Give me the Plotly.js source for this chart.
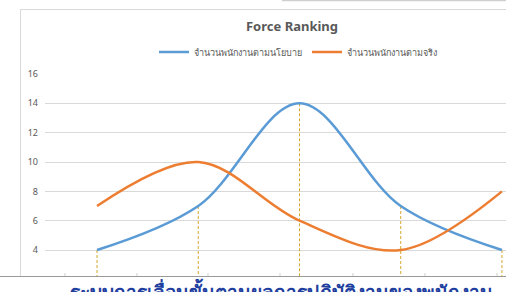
<!DOCTYPE html>
<html>
<head>
<meta charset="utf-8">
<script src="https://cdn.plot.ly/plotly-3.0.1.min.js"></script>
<style>html,body{margin:0;padding:0;background:#fff;}#chart{width:506px;height:292px;}</style>
</head>
<body>
<div id="chart"></div>
<script>
// Data
const categories = [1, 2, 3, 4, 5];
const policySeriesName = "จำนวนพนักงานตามนโยบาย";
const actualSeriesName = "จำนวนพนักงานตามจริง";
const policyValues = [4, 7, 14, 7, 4];
const actualValues = [7, 10, 6, 4, 8];
const yTickValues = [2, 4, 6, 8, 10, 12, 14, 16];
const chartTitle = "Force Ranking";
const footerText = "ระบบการเลื่อนขั้นตามผลการปฏิบัติงานของพนักงาน";

const W = 506, H = 292;
const M = {l: 45, r: 0, t: 74, b: 1};
const PW = W - M.l - M.r, PH = H - M.t - M.b;
const px = x => (x - M.l) / PW;
const py = y => (H - M.b - y) / PH;

const xs = categories.map((c, i) => i);
const font = "Noto Sans, Liberation Sans, DejaVu Sans, sans-serif";

const traces = [];
// drop lines from first series down
xs.forEach((x, i) => {
  traces.push({
    x: [x, x], y: [policyValues[i], 0],
    mode: 'lines', showlegend: false, hoverinfo: 'skip',
    line: {color: '#d4a72c', width: 1, dash: '3px,2px'}
  });
});
traces.push({
  x: xs, y: policyValues, name: policySeriesName, mode: 'lines',
  line: {color: '#5b9bd5', width: 2.5, shape: 'spline', smoothing: 1}
});
traces.push({
  x: xs, y: actualValues, name: actualSeriesName, mode: 'lines',
  line: {color: '#ed7d31', width: 2.5, shape: 'spline', smoothing: 1}
});

const shapes = [
  // chart border top and left
  {type: 'line', xref: 'paper', yref: 'paper', x0: px(20), x1: px(506), y0: py(9.5), y1: py(9.5), line: {color: '#d9d9d9', width: 1}, layer: 'above'},
  {type: 'line', xref: 'paper', yref: 'paper', x0: px(20.5), x1: px(20.5), y0: py(9), y1: py(276), line: {color: '#d9d9d9', width: 1}, layer: 'above'},
  // top-right strip
  {type: 'line', xref: 'paper', yref: 'paper', x0: px(282), x1: px(506), y0: py(0.5), y1: py(0.5), line: {color: '#cfcfcf', width: 1.5}, layer: 'above'},
  // white cover at bottom
  {type: 'rect', xref: 'paper', yref: 'paper', x0: px(0), x1: px(506), y0: py(292), y1: py(276), fillcolor: '#ffffff', line: {width: 0}, layer: 'above'},
  // horizontal document line
  {type: 'line', xref: 'paper', yref: 'paper', x0: px(0), x1: px(506), y0: py(276.5), y1: py(276.5), line: {color: '#9a9a9a', width: 1}, layer: 'above'}
];
[65, 137, 208, 280, 353, 425, 497].forEach(t => {
  shapes.push({type: 'line', xref: 'paper', yref: 'paper', x0: px(t), x1: px(t), y0: py(276), y1: py(273), line: {color: '#cfcfcf', width: 1}, layer: 'above'});
});

const layout = {
  width: W, height: H,
  margin: M,
  paper_bgcolor: '#ffffff', plot_bgcolor: '#ffffff',
  showlegend: true,
  title: {text: '<b>' + chartTitle + '</b>', font: {family: font, size: 13, color: '#595959'},
          x: 292 / W, xref: 'container', xanchor: 'center', y: 1 - 26 / H, yref: 'container', yanchor: 'middle'},
  legend: {orientation: 'h', x: px(298), xanchor: 'center', y: py(52), yanchor: 'middle',
           font: {family: font, size: 9, color: '#595959'}, bgcolor: 'rgba(0,0,0,0)', itemwidth: 30, tracegroupgap: 0},
  xaxis: {range: [-0.514, 4.04], showgrid: false, zeroline: false, showline: false, showticklabels: false, ticks: '', fixedrange: true},
  yaxis: {range: [16 - PH / 14.67, 16], tickvals: yTickValues, ticktext: yTickValues.map(String),
          showgrid: true, gridcolor: '#d9d9d9', gridwidth: 1, zeroline: false, showline: false, ticks: '',
          ticklabelstandoff: 6, tickfont: {family: font, size: 9, color: '#595959'}, fixedrange: true},
  shapes: shapes,
  annotations: [
    {text: '<b>' + footerText + '</b>', xref: 'paper', yref: 'paper', x: px(68), xanchor: 'left', y: py(276), yanchor: 'top',
     showarrow: false, font: {family: font, size: 19, color: '#1f3f9f'}}
  ]
};

Plotly.newPlot('chart', traces, layout, {displayModeBar: false, staticPlot: true});
</script>
</body>
</html>
